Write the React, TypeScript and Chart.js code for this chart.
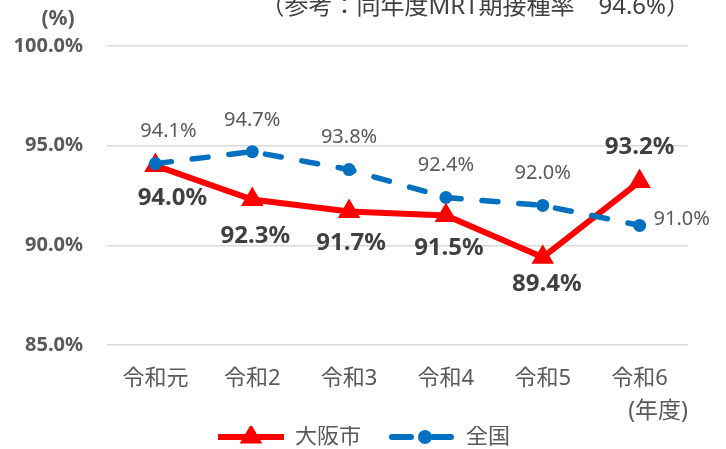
import React, { useEffect, useRef } from 'react';
import { Chart, registerables } from 'chart.js';

Chart.register(...registerables);

const categories = ['令和元', '令和2', '令和3', '令和4', '令和5', '令和6'];
const osakaValues = [94.0, 92.3, 91.7, 91.5, 89.4, 93.2];
const nationalValues = [94.1, 94.7, 93.8, 92.4, 92.0, 91.0];
const yTickValues = [85, 90, 95, 100];
const seriesNames = ['大阪市', '全国'];
const titleText = '（参考：同年度MRT期接種率　94.6%）';
const unitLabel = '(%)';
const xAxisTitle = '(年度)';

const FONT = '"Noto Sans", "Noto Sans CJK JP", sans-serif';
const RED = '#ff0000';
const BLUE = '#0070c0';
const GRAY = '#595959';
const DARK = '#404040';

function makeLegendImage(kind: 'red' | 'blue'): HTMLCanvasElement {
  const c = document.createElement('canvas');
  c.width = 94;
  c.height = 30;
  const ctx = c.getContext('2d')!;
  const y = 15;
  if (kind === 'red') {
    ctx.strokeStyle = RED;
    ctx.lineWidth = 6;
    ctx.beginPath();
    ctx.moveTo(28, y);
    ctx.lineTo(94, y);
    ctx.stroke();
    const r = 13;
    const cx = 61;
    ctx.fillStyle = RED;
    ctx.beginPath();
    ctx.moveTo(cx, y - r);
    ctx.lineTo(cx + (r * Math.sqrt(3)) / 2, y + r / 2);
    ctx.lineTo(cx - (r * Math.sqrt(3)) / 2, y + r / 2);
    ctx.closePath();
    ctx.fill();
  } else {
    ctx.strokeStyle = BLUE;
    ctx.lineWidth = 6;
    ctx.lineCap = 'round';
    ctx.beginPath();
    ctx.moveTo(31, y);
    ctx.lineTo(50, y);
    ctx.stroke();
    ctx.beginPath();
    ctx.moveTo(72, y);
    ctx.lineTo(90, y);
    ctx.stroke();
    ctx.fillStyle = BLUE;
    ctx.beginPath();
    ctx.arc(64, y, 7, 0, Math.PI * 2);
    ctx.fill();
  }
  return c;
}

type LabelOffset = { dx: number; dy: number; align?: CanvasTextAlign };

const labelStyles: { font: string; color: string; offsets: LabelOffset[] }[] = [
  {
    font: `bold 24px ${FONT}`,
    color: DARK,
    offsets: [
      { dx: 17, dy: 33 },
      { dx: 3, dy: 37 },
      { dx: 2, dy: 32 },
      { dx: 3, dy: 33 },
      { dx: 4, dy: 27 },
      { dx: 0, dy: -34 },
    ],
  },
  {
    font: `20px ${FONT}`,
    color: GRAY,
    offsets: [
      { dx: 13, dy: -32 },
      { dx: 0, dy: -31 },
      { dx: 0, dy: -32 },
      { dx: 0, dy: -32 },
      { dx: 0, dy: -32 },
      { dx: 14, dy: -6, align: 'left' },
    ],
  },
];

const valueLabelPlugin = {
  id: 'valueLabels',
  afterDatasetsDraw(chart: any) {
    const ctx = chart.ctx as CanvasRenderingContext2D;
    chart.data.datasets.forEach((ds: any, di: number) => {
      const meta = chart.getDatasetMeta(di);
      const style = labelStyles[di];
      meta.data.forEach((pt: any, i: number) => {
        const v = ds.data[i] as number;
        const o = style.offsets[i];
        ctx.save();
        ctx.font = style.font;
        ctx.fillStyle = style.color;
        ctx.textAlign = o.align || 'center';
        ctx.textBaseline = 'middle';
        ctx.fillText(v.toFixed(1) + '%', pt.x + o.dx, pt.y + o.dy);
        ctx.restore();
      });
    });
  },
};

const headerPlugin = {
  id: 'headerTexts',
  afterDraw(chart: any) {
    const ctx = chart.ctx as CanvasRenderingContext2D;
    const area = chart.chartArea;
    ctx.save();
    ctx.font = `24px ${FONT}`;
    ctx.fillStyle = DARK;
    ctx.textAlign = 'right';
    ctx.textBaseline = 'middle';
    ctx.fillText(titleText, area.right + 2, 7);
    ctx.font = `bold 21px ${FONT}`;
    ctx.fillStyle = GRAY;
    ctx.textAlign = 'center';
    ctx.fillText(unitLabel, 58, area.top - 27);
    ctx.restore();
  },
};

export default function App() {
  const canvasRef = useRef<HTMLCanvasElement | null>(null);

  useEffect(() => {
    if (!canvasRef.current) return;
    const redImg = makeLegendImage('red');
    const blueImg = makeLegendImage('blue');
    const chart = new Chart(canvasRef.current, {
      type: 'line',
      data: {
        labels: categories,
        datasets: [
          {
            label: seriesNames[0],
            data: osakaValues,
            borderColor: RED,
            backgroundColor: RED,
            borderWidth: 6,
            pointStyle: 'triangle',
            pointRadius: 13,
            pointBorderWidth: 0,
            pointBackgroundColor: RED,
            tension: 0,
            order: 1,
          },
          {
            label: seriesNames[1],
            data: nationalValues,
            borderColor: BLUE,
            backgroundColor: BLUE,
            borderWidth: 5.5,
            borderDash: [16, 21],
            borderCapStyle: 'round',
            pointStyle: 'circle',
            pointRadius: 6.5,
            pointBorderWidth: 0,
            pointBackgroundColor: BLUE,
            tension: 0,
            order: 0,
          },
        ],
      },
      options: {
        responsive: false,
        animation: false,
        devicePixelRatio: 1,
        layout: { padding: { left: 12, right: 38, top: 46, bottom: -9 } },
        scales: {
          x: {
            offset: true,
            grid: { display: false, drawTicks: false },
            border: { display: false },
            afterFit: (axis: any) => {
              axis.height = 81;
            },
            ticks: {
              padding: 21,
              color: GRAY,
              font: { family: FONT, size: 22 },
              maxRotation: 0,
              autoSkip: false,
            },
            title: {
              display: true,
              text: xAxisTitle,
              align: 'end',
              color: GRAY,
              font: { family: FONT, size: 23 },
              padding: { top: 0, bottom: 1 },
            },
          },
          y: {
            min: 85,
            max: 100,
            afterBuildTicks: (axis: any) => {
              axis.ticks = yTickValues.map((v) => ({ value: v }));
            },
            afterFit: (axis: any) => {
              axis.width = 95;
            },
            grid: { color: '#d9d9d9', lineWidth: 1.5, drawTicks: false },
            border: { display: false },
            ticks: {
              padding: 24,
              color: GRAY,
              font: { family: FONT, size: 20, weight: 'bold' },
              callback: (v: any) => Number(v).toFixed(1) + '%',
            },
          },
        },
        plugins: {
          tooltip: { enabled: false },
          title: { display: false },
          legend: {
            position: 'bottom',
            labels: {
              usePointStyle: true,
              pointStyleWidth: 94,
              padding: 0,
              color: GRAY,
              font: { family: FONT, size: 22 },
              generateLabels: () => [
                {
                  text: seriesNames[0],
                  pointStyle: redImg as any,
                  fillStyle: RED,
                  strokeStyle: RED,
                  lineWidth: 0,
                  hidden: false,
                  datasetIndex: 0,
                  fontColor: GRAY,
                },
                {
                  text: seriesNames[1],
                  pointStyle: blueImg as any,
                  fillStyle: BLUE,
                  strokeStyle: BLUE,
                  lineWidth: 0,
                  hidden: false,
                  datasetIndex: 1,
                  fontColor: GRAY,
                },
              ],
            },
          },
        },
      } as any,
      plugins: [valueLabelPlugin, headerPlugin],
    });
    return () => chart.destroy();
  }, []);

  return (
    <div style={{ position: 'absolute', left: 0, top: 0, width: 726, height: 449, background: '#fff' }}>
      <canvas ref={canvasRef} width={726} height={449} style={{ display: 'block' }} />
    </div>
  );
}
